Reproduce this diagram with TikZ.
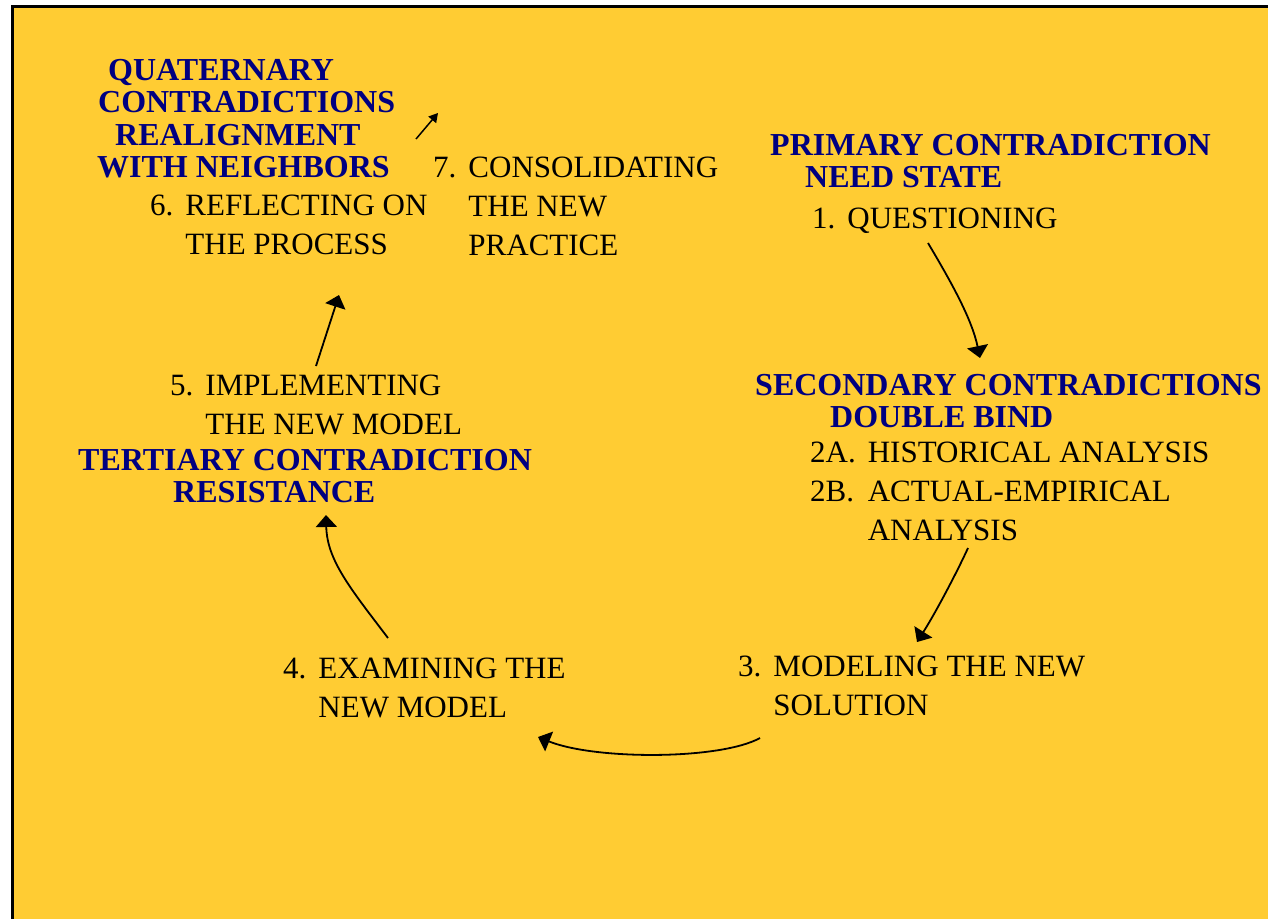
\documentclass[tikz,border=0pt]{standalone}
\usepackage{fontspec}
\setmainfont{Liberation Serif}
\usetikzlibrary{arrows.meta}

\definecolor{bgyellow}{RGB}{255,204,51}
\definecolor{phaseblue}{RGB}{0,0,128}

\newcommand{\actiontext}[1]{\begin{tabular}[t]{@{}l@{\hspace{12pt}}l@{}}#1\end{tabular}}
\newcommand{\phasetext}[1]{\begin{tabular}[t]{@{}l@{}}#1\end{tabular}}

\begin{document}
\begin{tikzpicture}[x=1pt, y=-1pt,
		phase/.style={anchor=base west, inner sep=0pt, text=phaseblue, font=\fontsize{32}{32.5}\selectfont\bfseries},
		action/.style={anchor=base west, inner sep=0pt, font=\fontsize{31}{39}\selectfont},
		flow/.style={line width=1.8pt, -{Triangle[width=21pt,length=12pt]}}]
		\useasboundingbox (0,0) rectangle (1268,919);
		\fill[white] (0,0) rectangle (1268,919);
		\fill[bgyellow] (12,6) rectangle (1268,919);
		\draw[line width=3pt] (12.5,919) -- (12.5,6.5) -- (1268,6.5);

		% contradictions
		\node[phase] (quat) at (97,80) {\phasetext{\hspace*{11pt}QUATERNARY\\ \hspace*{1pt}CONTRADICTIONS\\ \hspace*{18pt}REALIGNMENT\\ WITH NEIGHBORS}};
		\node[phase] (prim) at (770,155) {\phasetext{PRIMARY CONTRADICTION\\ \hspace*{35pt}NEED STATE}};
		\node[phase] (sec) at (755,395) {\phasetext{SECONDARY CONTRADICTIONS\\ \hspace*{75pt}DOUBLE BIND}};
		\node[phase] (tert) at (78,470) {\phasetext{TERTIARY CONTRADICTION\\ \hspace*{95pt}RESISTANCE}};

		% steps
		\node[action] (s1) at (812,228) {\actiontext{1.&QUESTIONING}};
		\node[action] (s2) at (810,462) {\actiontext{2A.&HISTORICAL ANALYSIS\\ 2B.&ACTUAL-EMPIRICAL\\ &ANALYSIS}};
		\node[action] (s3) at (738,676) {\actiontext{3.&MODELING THE NEW\\ &SOLUTION}};
		\node[action] (s4) at (283,678) {\actiontext{4.&EXAMINING THE\\ &NEW MODEL}};
		\node[action] (s5) at (170,395) {\actiontext{5.&IMPLEMENTING\\ &THE NEW MODEL}};
		\node[action] (s6) at (150,215) {\actiontext{6.&REFLECTING ON\\ &THE PROCESS}};
		\node[action] (s7) at (433,177) {\actiontext{7.&CONSOLIDATING\\ &THE NEW\\ &PRACTICE}};

		\coordinate (a1) at (928,243);
		\coordinate (b1) at (980,358);
		\coordinate (a2) at (968,548);
		\coordinate (b2) at (917,642);
		\coordinate (a3) at (760,738);
		\coordinate (b3) at (538,737);
		\coordinate (a4) at (388,638);
		\coordinate (b4) at (326,515);
		\coordinate (a5) at (316,366);
		\coordinate (b5) at (339,295);
		\coordinate (a7) at (416,139);
		\coordinate (b7) at (438,113);

		\draw[flow] (a1) .. controls (953,285) and (972,320) .. (b1);
		\draw[flow] (a2) .. controls (957,572) and (936,612) .. (b2);
		\draw[flow] (a3) .. controls (720,760) and (595,760) .. (b3);
		\draw[flow] (a4) .. controls (350,588) and (327,560) .. (b4);
		\draw[flow] (a5) -- (b5);
		\draw[line width=1.5pt, -{Triangle[width=10pt,length=9pt]}] (a7) -- (b7);
	\end{tikzpicture}
\end{document}
